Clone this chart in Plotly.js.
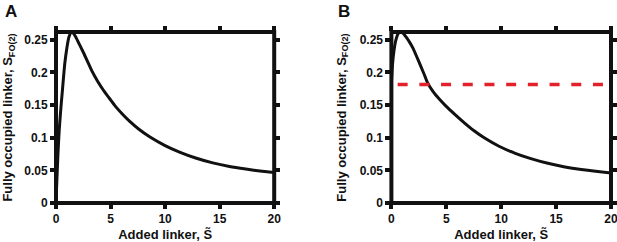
<!DOCTYPE html>
<html><head><meta charset="utf-8">
<script src="https://cdn.plot.ly/plotly-3.0.1.min.js"></script>
<style>html,body{margin:0;padding:0;background:#fff}#c{width:617px;height:242px}</style>
</head><body><div id="c"></div>
<script>
// Panel A: fully occupied linker vs added linker
const xA = [0, 0.08, 0.18, 0.3, 0.45, 0.6, 0.8, 1.0, 1.2, 1.4, 1.6, 1.85, 2.1, 2.5, 2.86, 3.3, 3.8, 4.38, 5.0, 5.45, 6.1, 6.76, 7.6, 8.58, 10, 11.32, 12.8, 14.37, 15.9, 17.4, 18.7, 20];
const yA = [0, 0.035, 0.075, 0.113, 0.146, 0.175, 0.213, 0.238, 0.255, 0.2615, 0.26, 0.253, 0.2445, 0.231, 0.218, 0.202, 0.187, 0.172, 0.158, 0.148, 0.136, 0.125, 0.113, 0.1015, 0.088, 0.078, 0.069, 0.0615, 0.056, 0.052, 0.049, 0.0468];
// Panel B
const xB = [0, 0.1, 0.25, 0.4, 0.6, 0.87, 1.1, 1.35, 1.65, 1.94, 2.3, 2.7, 3.0, 3.3, 3.8, 4.4, 4.97, 5.8, 6.67, 7.5, 8.49, 9.8, 11.22, 12.7, 14.25, 15.8, 17.29, 18.6, 20];
const yB = [0.185, 0.212, 0.235, 0.249, 0.259, 0.262, 0.2595, 0.254, 0.2465, 0.238, 0.2245, 0.2085, 0.1965, 0.184, 0.1705, 0.1585, 0.1485, 0.1355, 0.1225, 0.111, 0.0995, 0.087, 0.0765, 0.068, 0.0608, 0.0553, 0.0513, 0.0485, 0.046];
// Panel B threshold (dashed red)
const xThr = [0.57, 20];
const yThr = [0.1815, 0.1815];
const xTicks = [0, 5, 10, 15, 20];
const xTickText = ['0', '5', '10', '15', '20'];
const yTicks = [0, 0.05, 0.1, 0.15, 0.2, 0.25];
const yTickText = ['0', '0.05', '0.1', '0.15', '0.2', '0.25'];

const W = 617, H = 242;
const L = 56, R = W - 611.5, T = 32.4, B = H - 202.7;
const plotW = W - L - R;
const dA = [0, (274.4 - L) / plotW];
const dB = [(391.7 - L) / plotW, 1];

const FONT = 'Liberation Sans, Arial, sans-serif';
const tickFont = {family: FONT, size: 12, color: '#111', weight: 'bold'};
const titleFont = {family: FONT, size: 13, color: '#111', weight: 'bold'};

function xax(domain, anchor) {
  return {domain: domain, anchor: anchor, range: [0, 20], tickvals: xTicks, ticktext: xTickText,
    ticks: 'outside', ticklen: 5, tickwidth: 4, tickcolor: '#111', mirror: 'allticks',
    ticklabeloverflow: 'allow',
    showline: false, showgrid: false, zeroline: false, tickfont: tickFont,
    title: {text: 'Added linker, S\u0303', font: titleFont, standoff: 4}};
}
function yax(anchor) {
  return {domain: [0, 1], anchor: anchor, range: [0, 0.262], tickvals: yTicks, ticktext: yTickText,
    ticks: 'outside', ticklen: 5, tickwidth: 4, tickcolor: '#111', mirror: 'allticks',
    ticklabeloverflow: 'allow',
    showline: false, showgrid: false, zeroline: false, tickfont: tickFont,
    title: {text: 'Fully occupied linker, S<sub>FO(2)</sub>', font: titleFont, standoff: 10}};
}

const traces = [
  {x: xA, y: yA, xaxis: 'x', yaxis: 'y', mode: 'lines', line: {color: '#111', width: 3, shape: 'spline', smoothing: 0.6}, hoverinfo: 'skip'},
  {x: xB, y: yB, xaxis: 'x2', yaxis: 'y2', mode: 'lines', line: {color: '#111', width: 3, shape: 'spline', smoothing: 0.6}, hoverinfo: 'skip'},
  {x: xThr, y: yThr, xaxis: 'x2', yaxis: 'y2', mode: 'lines', line: {color: '#e3212b', width: 3.5, dash: '10px,11.7px'}, hoverinfo: 'skip'}
];

function frame(xr, yr) {
  return {type: 'rect', xref: xr + ' domain', yref: yr + ' domain', x0: 0, x1: 1, y0: 0, y1: 1,
    line: {color: '#111', width: 4}, layer: 'above'};
}

const layout = {
  width: W, height: H, margin: {l: L, r: R, t: T, b: B},
  paper_bgcolor: '#fff', plot_bgcolor: '#fff', showlegend: false,
  xaxis: xax(dA, 'y'), yaxis: yax('x'),
  xaxis2: xax(dB, 'y2'), yaxis2: yax('x2'),
  shapes: [frame('x', 'y'), frame('x2', 'y2')],
  annotations: [
    {text: 'A', xref: 'paper', yref: 'paper', x: (3 - L) / plotW, y: 1 + (T - 1) / (H - T - B), xanchor: 'left', yanchor: 'top', showarrow: false, font: {family: FONT, size: 17, color: '#111', weight: 'bold'}},
    {text: 'B', xref: 'paper', yref: 'paper', x: (336 - L) / plotW, y: 1 + (T - 1) / (H - T - B), xanchor: 'left', yanchor: 'top', showarrow: false, font: {family: FONT, size: 17, color: '#111', weight: 'bold'}}
  ]
};
Plotly.newPlot('c', traces, layout, {staticPlot: true, displayModeBar: false});
</script></body></html>
